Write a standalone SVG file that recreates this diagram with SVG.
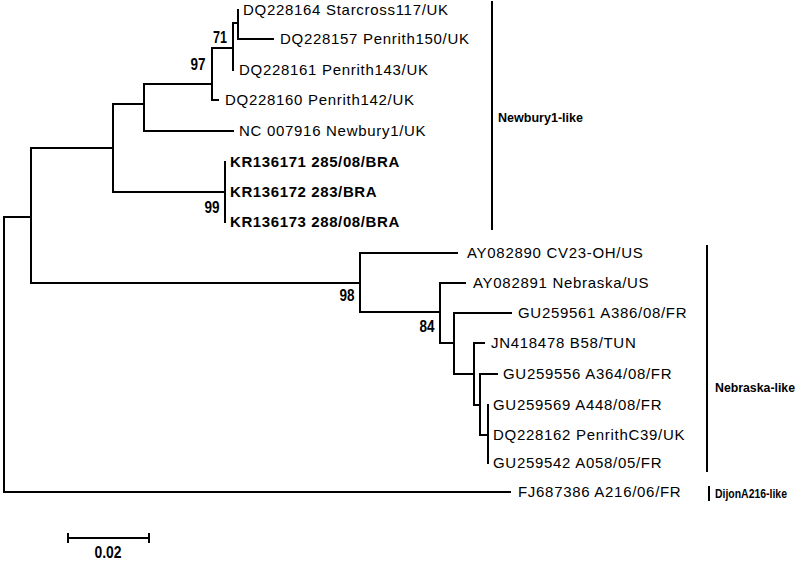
<svg xmlns="http://www.w3.org/2000/svg" width="800" height="561" viewBox="0 0 800 561">
<style>
.br{stroke:#000;stroke-width:2;fill:none;stroke-linecap:square}
.lf{font-family:"Liberation Sans",Arial,sans-serif;font-size:15px;letter-spacing:0.7px;fill:#000}
.bd{font-weight:bold;letter-spacing:0.6px}
.bs{font-family:"Liberation Sans",Arial,sans-serif;font-size:16px;font-weight:bold;fill:#000;text-anchor:middle}
.cl{font-family:"Liberation Sans",Arial,sans-serif;font-size:13px;font-weight:bold;fill:#000}
.bk{stroke:#000;stroke-width:2;fill:none}
</style>
<rect width="800" height="561" fill="#fff"/>
<g id="connectors" class="br">
<path d="M4,217V492M4,217H31M4,492H510"/>
<path d="M31,148V283M31,148H113M31,283H360"/>
<path d="M113,104V192M113,104H144M113,192H225"/>
<path d="M144,84V131M144,84H212M144,131H233"/>
<path d="M212,48V100M212,48H233M212,100H218"/>
<path d="M233,23V70M233,23H238"/>
<path d="M238,10V39M238,39H273"/>
<path d="M225,162V222"/>
<path d="M360,253V312M360,253H457M360,312H440"/>
<path d="M440,283V343M440,283H465M440,343H454"/>
<path d="M454,313V374M454,313H511M454,374H474"/>
<path d="M474,343V405M474,343H484M474,405H480"/>
<path d="M480,374V435M480,374H497M480,435H488"/>
<path d="M488,405V463"/>
</g>
<g id="leaves">
<text id="DQ228164" class="lf" x="243" y="15">DQ228164 Starcross117/UK</text>
<text id="DQ228157" class="lf" x="280" y="44">DQ228157 Penrith150/UK</text>
<text id="DQ228161" class="lf" x="239" y="75">DQ228161 Penrith143/UK</text>
<text id="DQ228160" class="lf" x="225" y="105">DQ228160 Penrith142/UK</text>
<text id="NC007916" class="lf" x="239" y="136">NC 007916 Newbury1/UK</text>
<text id="KR136171" class="lf bd" x="230" y="167">KR136171 285/08/BRA</text>
<text id="KR136172" class="lf bd" x="230" y="197">KR136172 283/BRA</text>
<text id="KR136173" class="lf bd" x="230" y="227">KR136173 288/08/BRA</text>
<text id="AY082890" class="lf" x="467" y="258">AY082890 CV23-OH/US</text>
<text id="AY082891" class="lf" x="473" y="288">AY082891 Nebraska/US</text>
<text id="GU259561" class="lf" x="518" y="318">GU259561 A386/08/FR</text>
<text id="JN418478" class="lf" x="491" y="348">JN418478 B58/TUN</text>
<text id="GU259556" class="lf" x="503" y="379">GU259556 A364/08/FR</text>
<text id="GU259569" class="lf" x="493" y="410">GU259569 A448/08/FR</text>
<text id="DQ228162" class="lf" x="493" y="440">DQ228162 PenrithC39/UK</text>
<text id="GU259542" class="lf" x="493" y="468">GU259542 A058/05/FR</text>
<text id="FJ687386" class="lf" x="518" y="497">FJ687386 A216/06/FR</text>
</g>
<g id="bootstrap">
<text class="bs" x="220" y="43" textLength="14" lengthAdjust="spacingAndGlyphs">71</text>
<text class="bs" x="198" y="70" textLength="15" lengthAdjust="spacingAndGlyphs">97</text>
<text class="bs" x="212" y="213" textLength="15" lengthAdjust="spacingAndGlyphs">99</text>
<text class="bs" x="347" y="301" textLength="15" lengthAdjust="spacingAndGlyphs">98</text>
<text class="bs" x="427" y="332" textLength="15" lengthAdjust="spacingAndGlyphs">84</text>
</g>
<g id="clade-newbury">
<line class="bk" x1="492" y1="1" x2="492" y2="230"/>
<text class="cl" x="498" y="122" textLength="85" lengthAdjust="spacingAndGlyphs">Newbury1-like</text>
</g>
<g id="clade-nebraska">
<line class="bk" x1="707" y1="245" x2="707" y2="472"/>
<text class="cl" x="715" y="392" textLength="80" lengthAdjust="spacingAndGlyphs">Nebraska-like</text>
</g>
<g id="clade-dijon">
<line class="bk" x1="709" y1="486" x2="709" y2="501"/>
<text class="cl" x="715" y="498" font-size="10.5" textLength="72" lengthAdjust="spacingAndGlyphs">DijonA216-like</text>
</g>
<g id="scalebar">
<path class="bk" d="M68,538H149M68,533V543M149,533V543"/>
<text class="bs" x="108" y="558" textLength="27" lengthAdjust="spacingAndGlyphs">0.02</text>
</g>
</svg>
